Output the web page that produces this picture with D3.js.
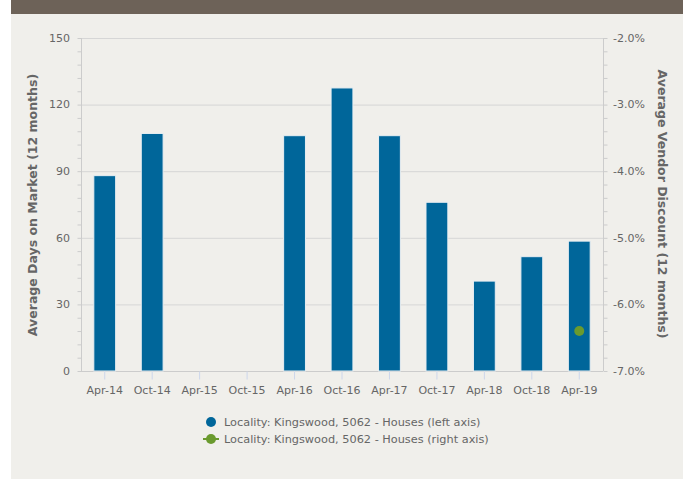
<!DOCTYPE html>
<html><head><meta charset="utf-8">
<script src="https://cdn.jsdelivr.net/npm/d3@7"></script>
<style>
body{margin:0;background:#fff;}
svg{display:block;font-family:"DejaVu Sans",sans-serif;}
</style></head>
<body>
<svg id="c" width="690" height="479"></svg>
<script>
const categories = ["Apr-14","Oct-14","Apr-15","Oct-15","Apr-16","Oct-16","Apr-17","Oct-17","Apr-18","Oct-18","Apr-19"];
const daysOnMarket = [88, 107, null, null, 106, 127.5, 106, 76, 40.5, 51.5, 58.5];
const vendorDiscount = [null, null, null, null, null, null, null, null, null, null, -6.4];
const leftTicks = [0, 30, 60, 90, 120, 150];
const rightTicks = [-7, -6, -5, -4, -3, -2];
const seriesNames = ["Locality: Kingswood, 5062 - Houses (left axis)", "Locality: Kingswood, 5062 - Houses (right axis)"];

const svg = d3.select("#c");
const W = 690, H = 479;
const m = {l:81, r:603, t:38, b:371};
const blue = "#00669a", green = "#6a9a2e", txt = "#666666";

svg.append("rect").attr("x",11).attr("y",0).attr("width",672).attr("height",H).attr("fill","#f0efeb");
svg.append("rect").attr("x",11).attr("y",0).attr("width",672).attr("height",14).attr("fill","#6d6258");

const x = d3.scaleBand().domain(categories).range([m.l, m.r]).paddingInner(0.54).paddingOuter(0.27);
const xc = d3.scaleBand().domain(categories).range([m.l, m.r]);
const yL = d3.scaleLinear().domain([0,150]).range([m.b, m.t]);
const yR = d3.scaleLinear().domain([-7,-2]).range([m.b, m.t]);

// gridlines
svg.append("g").selectAll("line").data(leftTicks).join("line")
  .attr("x1",m.l).attr("x2",m.r).attr("y1",d=>yL(d)+0.5).attr("y2",d=>yL(d)+0.5)
  .attr("stroke","#d6d6d6").attr("stroke-width",1);

// left axis
const gL = svg.append("g").attr("transform",`translate(${m.l+0.5},0)`)
  .call(d3.axisLeft(yL).tickValues(d3.range(0,151,6)).tickSize(4).tickFormat(""));
gL.select(".domain").attr("stroke","#cccccc").attr("d",`M0,${m.t}V${m.b}`);
gL.selectAll(".tick line").attr("stroke","#cccccc");
svg.append("g").selectAll("text").data(leftTicks).join("text")
  .attr("x",m.l-11).attr("y",d=>yL(d)).attr("dy","0.35em").attr("text-anchor","end")
  .attr("font-size",11).attr("fill",txt).text(d=>d);

// right axis
const gR = svg.append("g").attr("transform",`translate(${m.r+0.5},0)`)
  .call(d3.axisRight(yR).tickValues(d3.range(0,26).map(i=>-7+i*0.2)).tickSize(4).tickFormat(""));
gR.select(".domain").attr("stroke","#cccccc").attr("d",`M0,${m.t}V${m.b}`);
gR.selectAll(".tick line").attr("stroke","#cccccc");
svg.append("g").selectAll("text").data(rightTicks).join("text")
  .attr("x",m.r+10).attr("y",d=>yR(d)).attr("dy","0.35em").attr("text-anchor","start")
  .attr("font-size",11).attr("fill",txt).text(d=>d.toFixed(1)+"%");

// x axis
const gX = svg.append("g").attr("transform",`translate(0,${m.b+0.5})`)
  .call(d3.axisBottom(xc).tickSize(8).tickPadding(7));
gX.select(".domain").attr("stroke","#cccccc").attr("d",`M${m.l},0H${m.r}`);
gX.selectAll(".tick line").attr("stroke","#ccd6eb");
gX.selectAll(".tick text").attr("font-size",11).attr("fill",txt).attr("font-family","DejaVu Sans, sans-serif");

// bars
svg.append("g").selectAll("rect").data(categories.map((c,i)=>({c,v:daysOnMarket[i]})).filter(d=>d.v!=null)).join("rect")
  .attr("x",d=>x(d.c)).attr("width",x.bandwidth())
  .attr("y",d=>yL(d.v)).attr("height",d=>yL(0)-yL(d.v))
  .attr("fill",blue).attr("stroke","#e8eef2").attr("stroke-width",1);

// points
svg.append("g").selectAll("circle").data(categories.map((c,i)=>({c,v:vendorDiscount[i]})).filter(d=>d.v!=null)).join("circle")
  .attr("cx",d=>xc(d.c)+xc.bandwidth()/2).attr("cy",d=>yR(d.v)).attr("r",5).attr("fill",green);

// axis titles
svg.append("text").attr("transform",`translate(37,205) rotate(-90)`).attr("text-anchor","middle")
  .attr("font-size",12.5).attr("font-weight","bold").attr("fill",txt).text("Average Days on Market (12 months)");
svg.append("text").attr("transform",`translate(658,204) rotate(90)`).attr("text-anchor","middle")
  .attr("font-size",12.5).attr("font-weight","bold").attr("fill",txt).text("Average Vendor Discount (12 months)");

// legend
const lg = svg.append("g");
lg.append("circle").attr("cx",211).attr("cy",422).attr("r",5).attr("fill",blue);
lg.append("text").attr("x",224).attr("y",422).attr("dy","0.35em").attr("font-size",11.3).attr("fill",txt).text(seriesNames[0]);
lg.append("line").attr("x1",203).attr("x2",219).attr("y1",439).attr("y2",439).attr("stroke",green).attr("stroke-width",2);
lg.append("circle").attr("cx",211).attr("cy",439).attr("r",5).attr("fill",green);
lg.append("text").attr("x",224).attr("y",439).attr("dy","0.35em").attr("font-size",11.3).attr("fill",txt).text(seriesNames[1]);
</script>
</body></html>
